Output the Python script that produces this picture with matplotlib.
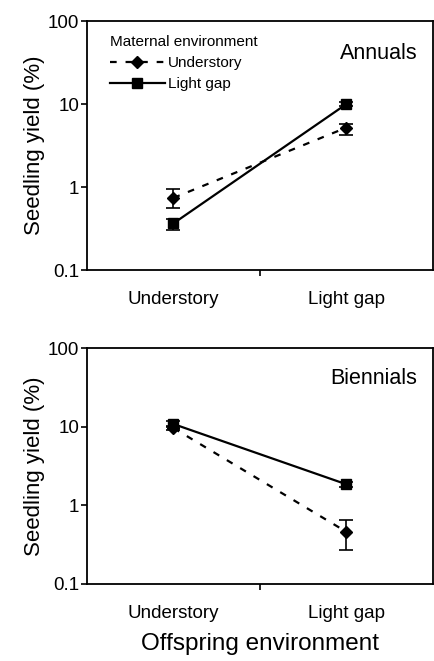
import numpy as np
import matplotlib.pyplot as plt
from matplotlib.lines import Line2D

plt.rcParams['font.family'] = ['Liberation Sans', 'DejaVu Sans']

# offspring environment categories
offspring = ['Understory', 'Light gap']

# Annuals: maternal understory (dashed, diamond) / maternal light gap (solid, square)
ann_under = [0.74, 5.2]
ann_under_lo = [0.56, 4.25]
ann_under_hi = [0.95, 5.75]
ann_gap = [0.365, 10.0]
ann_gap_lo = [0.30, 9.5]
ann_gap_hi = [0.41, 10.5]

# Biennials
bie_under = [9.6, 0.46]
bie_under_lo = [9.0, 0.27]
bie_under_hi = [10.2, 0.65]
bie_gap = [10.8, 1.85]
bie_gap_lo = [9.8, 1.7]
bie_gap_hi = [11.8, 2.0]

fig = plt.figure(figsize=(4.34, 6.61), dpi=100)
ax1 = fig.add_axes([0.2005, 0.5915, 0.797, 0.3767])
ax2 = fig.add_axes([0.2005, 0.1165, 0.797, 0.357])

x = np.array([0.5, 1.5])
DASH = (3, 4)


def draw(ax, yu, ylo_u, yhi_u, yg, ylo_g, yhi_g, title, legend=False):
    yu, yg = np.array(yu), np.array(yg)
    err_u = [yu - np.array(ylo_u), np.array(yhi_u) - yu]
    err_g = [yg - np.array(ylo_g), np.array(yhi_g) - yg]
    ax.errorbar(x, yu, yerr=err_u, color='black', marker='D', ms=6,
                lw=1.6, dashes=DASH, capsize=5, elinewidth=1.2,
                capthick=1.2)
    ax.errorbar(x, yg, yerr=err_g, color='black', marker='s', ms=6.5,
                lw=1.6, capsize=5, elinewidth=1.2, capthick=1.2)
    ax.set_yscale('log')
    ax.set_ylim(0.1, 100)
    ax.set_xlim(0, 2)
    ax.set_yticks([0.1, 1, 10, 100])
    ax.set_yticklabels(['0.1', '1', '10', '100'])
    ax.yaxis.set_minor_locator(plt.NullLocator())
    ax.set_xticks([1])
    ax.set_xticklabels([''])
    ax.set_xticks(x, minor=True)
    ax.set_xticklabels(offspring, minor=True)
    ax.tick_params(axis='x', which='minor', length=0, pad=15, labelsize=13.5)
    ax.tick_params(axis='x', which='major', length=4, width=1.2)
    ax.tick_params(axis='y', length=4, width=1.2, labelsize=13.5, pad=1.5)
    for s in ax.spines.values():
        s.set_linewidth(1.3)
    ax.set_ylabel('Seedling yield (%)', fontsize=16, labelpad=2)
    ax.text(0.955, 0.87, title, transform=ax.transAxes, ha='right',
            va='center', fontsize=15.5)
    if legend:
        h1 = Line2D([], [], color='black', marker='D', ms=6, lw=1.6,
                    dashes=DASH)
        h2 = Line2D([], [], color='black', marker='s', ms=6.5, lw=1.6)
        leg = ax.legend(handles=[h1, h2], labels=['Understory', 'Light gap'],
                        title='Maternal environment', loc='upper left',
                        frameon=False, fontsize=11, title_fontsize=11,
                        handlelength=3.6, handletextpad=0.2,
                        borderaxespad=0.3, labelspacing=0.45,
                        bbox_to_anchor=(0.035, 0.985))
        leg._legend_box.align = 'left'


draw(ax1, ann_under, ann_under_lo, ann_under_hi, ann_gap, ann_gap_lo,
     ann_gap_hi, 'Annuals', legend=True)
draw(ax2, bie_under, bie_under_lo, bie_under_hi, bie_gap, bie_gap_lo,
     bie_gap_hi, 'Biennials')
ax2.set_xlabel('Offspring environment', fontsize=17.5, labelpad=8)

fig.savefig('out.png', dpi=100)
